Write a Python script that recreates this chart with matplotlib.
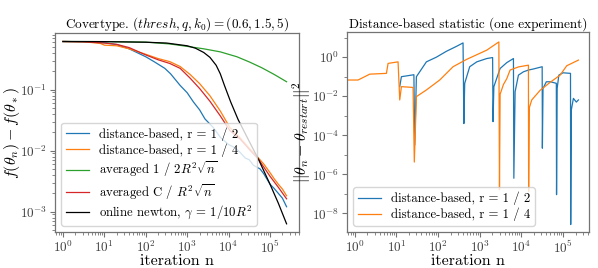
import numpy as np
import matplotlib
matplotlib.use("Agg")
import matplotlib.pyplot as plt
from matplotlib.ticker import LogLocator, NullFormatter

plt.rcParams['font.family'] = 'serif'
plt.rcParams['font.serif'] = ['cmr10']
plt.rcParams['mathtext.fontset'] = 'cm'
plt.rcParams['axes.formatter.use_mathtext'] = True
plt.rcParams['axes.unicode_minus'] = True

# ---------- Left panel data (log10 of n, log10 of f gap) ----------
blue_logn = [0.0, 0.5, 1.0, 1.3, 1.6, 2.0, 2.2, 2.46, 2.6, 2.83, 3.0, 3.15, 3.3, 3.43, 3.63, 3.8, 4.0, 4.15, 4.28, 4.4, 4.5, 4.6, 4.76, 4.85, 5.0, 5.1, 5.2, 5.3, 5.4]
blue_logf = [-0.21, -0.215, -0.23, -0.26, -0.33, -0.46, -0.54, -0.65, -0.74, -0.93, -1.05, -1.2, -1.33, -1.48, -1.62, -1.78, -1.9, -1.95, -2.03, -2.12, -2.15, -2.24, -2.30, -2.38, -2.55, -2.62, -2.70, -2.78, -2.92]

orange_logn = [0.0, 0.5, 0.9, 1.0, 1.3, 1.6, 2.0, 2.3, 2.58, 2.83, 3.07, 3.3, 3.55, 3.8, 4.03, 4.28, 4.5, 4.72, 4.85, 5.0, 5.1, 5.2, 5.3, 5.4]
orange_logf = [-0.21, -0.215, -0.24, -0.27, -0.28, -0.33, -0.42, -0.49, -0.54, -0.62, -0.75, -0.90, -1.10, -1.35, -1.62, -1.79, -1.96, -2.12, -2.22, -2.36, -2.46, -2.55, -2.63, -2.74]

green_logn = [0.0, 1.0, 2.0, 2.58, 3.0, 3.4, 3.8, 4.2, 4.5, 4.8, 5.1, 5.4]
green_logf = [-0.21, -0.212, -0.22, -0.25, -0.29, -0.33, -0.38, -0.46, -0.545, -0.64, -0.75, -0.87]

red_logn = [0.0, 0.5, 1.0, 1.3, 1.6, 2.0, 2.3, 2.58, 2.83, 3.07, 3.3, 3.55, 3.8, 4.03, 4.28, 4.5, 4.72, 5.0, 5.2, 5.4]
red_logf = [-0.21, -0.215, -0.235, -0.257, -0.31, -0.43, -0.51, -0.57, -0.65, -0.81, -0.98, -1.19, -1.43, -1.67, -1.81, -1.98, -2.14, -2.42, -2.60, -2.79]

black_logn = [0.0, 1.0, 2.0, 2.5, 3.0, 3.2, 3.4, 3.55, 3.7, 3.8, 3.9, 4.05, 4.23, 4.5, 4.72, 5.0, 5.2, 5.4]
black_logf = [-0.21, -0.212, -0.222, -0.235, -0.28, -0.32, -0.39, -0.47, -0.6, -0.74, -0.93, -1.2, -1.49, -1.85, -2.14, -2.55, -2.86, -3.2]

# ---------- Right panel data (log10 n, log10 distance) ----------
r_orange_logn = [-0.25, 0.08, 0.36, 0.76, 0.80, 1.04, 1.08, 1.12, 1.40, 1.43, 1.48, 1.72, 2.04, 2.36, 2.68, 3.17, 3.46,
                 3.475, 3.49, 3.57, 3.65, 3.73, 3.93, 4.17, 4.175, 4.19, 4.25, 4.45, 4.69, 4.93, 5.09, 5.37]
r_orange_logy = [-1.17, -1.17, -0.87, -0.83, -0.32, -0.24, -2.19, -1.51, -1.55, -5.37, -2.02, -1.68, -1.17, -0.49, -0.12, 0.36, 0.78,
                 -6.79, -1.9, -1.4, -1.1, -0.66, -0.5, -0.41, -6.87, -2.6, -2.19, -1.7, -1.29, -0.92, -0.44, -0.15]

r_blue_logn = [1.08, 1.12, 1.36, 1.42, 1.44, 1.48, 1.72, 1.96, 2.2, 2.44, 2.6, 2.62, 2.64, 2.76, 2.93, 3.17, 3.31,
               3.32, 3.34, 3.49, 3.65, 3.81, 3.82, 3.85, 3.93, 4.05, 4.17, 4.3, 4.5, 4.505, 4.52, 4.6, 4.7, 4.84,
               4.845, 4.86, 4.9, 5.0, 5.18, 5.185, 5.2, 5.25, 5.32, 5.37]
r_blue_logy = [-1.51, -1.0, -0.92, -0.9, -4.5, -1.0, -0.24, 0.0, 0.3, 0.55, 0.73, -3.4, -1.34, -0.49, -0.24, -0.07, -0.02,
               -3.3, -1.51, -0.58, -0.28, -0.07, -6.2, -1.77, -0.92, -0.75, -0.66, -0.6, -0.49, -4.66, -1.6, -1.26, -1.26, -1.34,
               -7.04, -1.6, -0.92, -0.8, -0.83, -8.57, -2.7, -2.11, -2.3, -2.19]

legend_left = ["distance-based, r = 1 / 2", "distance-based, r = 1 / 4",
               r"averaged 1 / 2$R^2\sqrt{n}$", r"averaged C / $R^2\sqrt{n}$",
               r"online newton, $\gamma$ = $1/10R^2$"]
legend_right = ["distance-based, r = 1 / 2", "distance-based, r = 1 / 4"]

C_BLUE, C_ORANGE, C_GREEN, C_RED = '#1f77b4', '#ff7f0e', '#2ca02c', '#d62728'

fig = plt.figure(figsize=(5.98, 2.68), dpi=100)
ax1 = fig.add_axes([0.092, 0.133, 0.408, 0.744])
ax2 = fig.add_axes([0.580, 0.133, 0.405, 0.747])

def p(a):
    return 10 ** np.asarray(a, dtype=float)

lw = 0.9
ax1.plot(p(blue_logn), p(blue_logf), color=C_BLUE, lw=lw, label=legend_left[0])
ax1.plot(p(orange_logn), p(orange_logf), color=C_ORANGE, lw=lw, label=legend_left[1])
ax1.plot(p(green_logn), p(green_logf), color=C_GREEN, lw=lw, label=legend_left[2])
ax1.plot(p(red_logn), p(red_logf), color=C_RED, lw=lw, label=legend_left[3])
ax1.plot(p(black_logn), p(black_logf), color='black', lw=lw, label=legend_left[4])
ax1.set_xscale('log'); ax1.set_yscale('log')
ax1.set_xlim(10 ** -0.19, 10 ** 5.7)
ax1.set_ylim(10 ** -3.34, 10 ** -0.07)
ax1.set_title(r"Covertype. $(thresh, q, k_0) = (0.6, 1.5, 5)$", fontsize=9.5, pad=3)
ax1.set_xlabel("iteration n", fontsize=11.5, labelpad=-1)
ax1.set_ylabel(r"$f(\theta_n) - f(\theta_*)$", fontsize=11.5)
ax1.yaxis.set_label_coords(-0.135, 0.5)
ax1.legend(loc='lower left', fontsize=9.2, framealpha=0.8, handlelength=1.8,
           labelspacing=0.2, borderpad=0.35, borderaxespad=0.5)

ax2.plot(p(r_blue_logn), p(r_blue_logy), color=C_BLUE, lw=lw, label=legend_right[0])
ax2.plot(p(r_orange_logn), p(r_orange_logy), color=C_ORANGE, lw=lw, label=legend_right[1])
ax2.set_xscale('log'); ax2.set_yscale('log')
ax2.set_xlim(10 ** -0.19, 10 ** 5.625)
ax2.set_ylim(10 ** -8.97, 10 ** 1.28)
ax2.yaxis.set_major_locator(LogLocator(base=100, numticks=20))
ax2.yaxis.set_minor_locator(LogLocator(base=10, subs=(1.0,), numticks=30))
ax2.yaxis.set_minor_formatter(NullFormatter())
ax2.set_title("Distance-based statistic (one experiment)", fontsize=9.5, pad=3)
ax2.set_xlabel("iteration n", fontsize=11.5, labelpad=-1)
ax2.set_ylabel(r"$||\theta_n - \theta_{restart}||^2$", fontsize=11.5)
ax2.yaxis.set_label_coords(-0.14, 0.5)
ax2.legend(loc='lower left', fontsize=9.2, framealpha=0.8, handlelength=1.8,
           labelspacing=0.2, borderpad=0.35, borderaxespad=0.5)

for ax in (ax1, ax2):
    ax.xaxis.set_major_locator(LogLocator(base=10, numticks=20))
    ax.xaxis.set_minor_locator(LogLocator(base=10, subs=np.arange(2, 10), numticks=20))
    ax.xaxis.set_minor_formatter(NullFormatter())
    for s in ax.spines.values():
        s.set_color('0.45')
        s.set_linewidth(0.9)
    ax.tick_params(which='both', colors='0.45', labelcolor='0.25', labelsize=9.5, pad=2)
    ax.tick_params(which='major', length=3.5)
    ax.tick_params(which='minor', length=2)
ax1.yaxis.set_major_locator(LogLocator(base=10, numticks=20))
ax1.yaxis.set_minor_formatter(NullFormatter())

fig.savefig("out.png", dpi=100)
